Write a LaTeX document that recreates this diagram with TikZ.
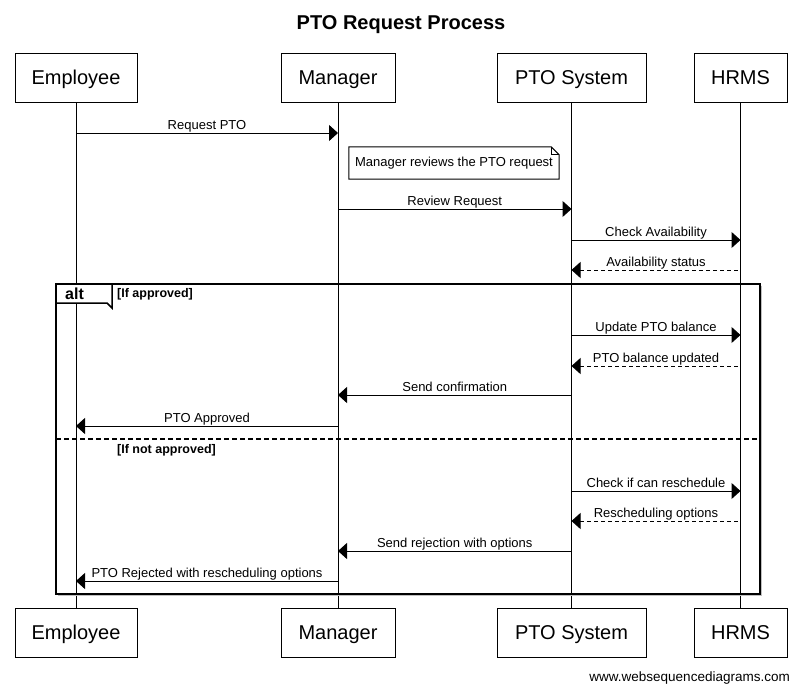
\documentclass[tikz,border=0pt]{standalone}
\usepackage{fontspec}
\setmainfont{Liberation Sans}
\usetikzlibrary{arrows.meta}
\tikzset{
  part/.style={draw, fill=white, line width=1pt, font=\fontsize{20}{24}\selectfont,
    text height=14.3pt, text depth=0pt, inner sep=0pt, minimum height=49pt},
  life/.style={line width=1pt},
  msg/.style={line width=1pt, -{Triangle[length=9pt,width=16pt]}},
  ret/.style={msg, dash pattern=on 4pt off 3pt, shorten <=3pt},
  lbl/.style={font=\fontsize{13}{15}\selectfont, anchor=base, yshift=4pt, inner sep=0pt},
  guard/.style={font=\bfseries\fontsize{12.5}{15}\selectfont, anchor=base west, inner sep=0pt},
  framebox/.style={line width=2pt},
}
\newcommand{\mymsg}[5]{%
  \coordinate (m#3a) at (#1.south |- 0,#3);
  \coordinate (m#3b) at (#2.south |- 0,#3);
  \draw[#5] (m#3a) -- node[lbl]{#4} (m#3b);}
\begin{document}
\begin{tikzpicture}[x=1pt,y=-1pt]
\useasboundingbox (0,0) rectangle (801,691);
\fill[white] (0,0) rectangle (801,691);

\node[font=\bfseries\fontsize{20}{24}\selectfont, anchor=base] (title) at (401,29) {PTO Request Process};

% participants top
\node[part, minimum width=122pt] (emp1) at (76,77.5) {Employee};
\node[part, minimum width=114pt] (man1) at (338,77.5) {Manager};
\node[part, minimum width=149pt] (pto1) at (571.5,77.5) {PTO System};
\node[part, minimum width=93pt]  (hr1)  at (740.5,77.5) {HRMS};
% participants bottom
\node[part, minimum width=122pt] (emp2) at (76,632.5) {Employee};
\node[part, minimum width=114pt] (man2) at (338,632.5) {Manager};
\node[part, minimum width=149pt] (pto2) at (571.5,632.5) {PTO System};
\node[part, minimum width=93pt]  (hr2)  at (740.5,632.5) {HRMS};

% lifelines
\draw[life] (emp1.south) -- (emp2.north);
\draw[life] (man1.south) -- (man2.north);
\draw[life] (pto1.south) -- (pto2.north);
\draw[life] (hr1.south) -- (hr2.north);

% messages
\mymsg{emp1}{man1}{133}{Request PTO}{msg}

% note
\node[font=\fontsize{13}{15}\selectfont, minimum width=210pt, minimum height=32pt, inner sep=0pt] (note) at (454,163) {Manager reviews the PTO request};
\draw[line width=1pt] (note.north west) -- ([xshift=-8pt]note.north east) -- ([yshift=-8pt]note.north east) -- (note.south east) -- (note.south west) -- cycle;
\draw[line width=0.8pt] ([xshift=-8pt]note.north east) -- ([xshift=-8pt,yshift=-8pt]note.north east) -- ([yshift=-8pt]note.north east);

\mymsg{man1}{pto1}{209}{Review Request}{msg}
\mymsg{pto1}{hr1}{240}{Check Availability}{msg}
\mymsg{hr1}{pto1}{270}{Availability status}{ret}

% alt frame
\coordinate (fTL) at (56,284);
\coordinate (fBR) at (760,594);
\draw[gray!50, line width=1.5pt] ([shift={(1.5,1.5)}]fTL -| fBR) -- ([shift={(1.5,1.5)}]fBR) -- ([shift={(1.5,1.5)}]fBR -| fTL);
\draw[framebox] (fTL) rectangle (fBR);
\coordinate (tab) at (112,303);
\draw[line width=1.5pt, fill=white] (fTL) -- (fTL |- tab) -- ([xshift=-5pt]tab) -- ([yshift=-5pt]tab) -- (tab |- fTL) -- cycle;
\node[font=\bfseries\fontsize{16}{18}\selectfont, anchor=base west, inner sep=0pt] (alt) at (65,299) {alt};
\node[guard] (g1) at (117,297) {[If approved]};

\mymsg{pto1}{hr1}{335}{Update PTO balance}{msg}
\mymsg{hr1}{pto1}{366}{PTO balance updated}{ret}
\mymsg{pto1}{man1}{395}{Send confirmation}{msg}
\mymsg{man1}{emp1}{426}{PTO Approved}{msg}

\coordinate (sepL) at (56,439);
\coordinate (sepR) at (760,439);
\draw[line width=2pt, dash pattern=on 5pt off 3pt] (sepL) -- (sepR);
\node[guard] (g2) at (117,453) {[If not approved]};

\mymsg{pto1}{hr1}{491}{Check if can reschedule}{msg}
\mymsg{hr1}{pto1}{521}{Rescheduling options}{ret}
\mymsg{pto1}{man1}{551}{Send rejection with options}{msg}
\mymsg{man1}{emp1}{581}{PTO Rejected with rescheduling options}{msg}

\node[font=\fontsize{13.5}{16}\selectfont, anchor=base east, inner sep=0pt] (foot) at (790,681) {www.websequencediagrams.com};
\end{tikzpicture}
\end{document}
